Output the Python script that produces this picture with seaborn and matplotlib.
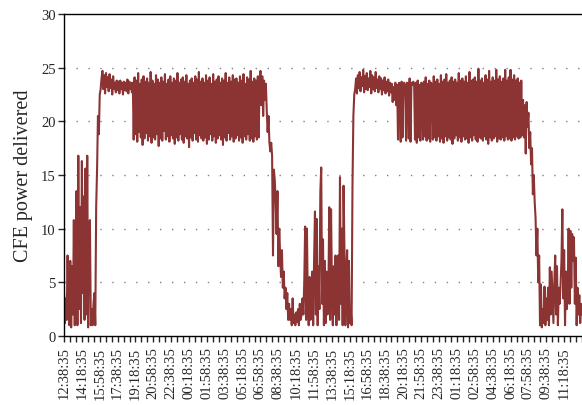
#!/usr/bin/python3
# -*- coding: utf-8 -*-

# --------------------------------------------------------------------
# CFE power delivered - two days of 5 min samples
# --------------------------------------------------------------------
import numpy as np
import pandas as pd

import matplotlib
matplotlib.use("Agg")
import matplotlib.pyplot as plt
from matplotlib.ticker import MultipleLocator, FixedLocator
import seaborn as sns

# --------------------------------------------------------------------
# data (one value every 5 minutes)
# --------------------------------------------------------------------
start_time = "2000-01-01 12:38:35"
step_minutes = 5
label_every = 100  # minutes between x labels

# morning, low and noisy
low_day1 = [4.0, 1.2, 3.5, 1.5, 7.5, 2.0, 1.0, 7.0, 0.8, 6.5, 2.0, 10.8, 1.0, 8.0, 13.5, 1.0,
            16.8, 2.5, 12.0, 1.2, 16.3, 4.0, 13.0, 1.5, 15.6, 2.0, 16.8, 0.8, 10.0, 10.8, 1.0,
            2.5, 1.0, 3.0, 4.0, 1.0, 12.0]
rise_day1 = [15.5, 20.5, 18.8, 22.5, 23.0, 24.0]
plateau_day1 = [24.7, 23.0, 24.3, 22.6, 24.5, 23.2, 24.1, 22.8, 24.4, 23.1, 23.9, 22.5, 24.2, 23.0,
                23.6, 22.7, 23.8, 22.9, 23.7, 22.6, 23.8, 23.0, 23.6, 22.5, 23.7, 22.9, 23.6, 22.8,
                23.9, 22.6, 23.7, 23.0, 23.6, 22.7]
band_day1 = [23.6, 18.3, 24.1, 18.8, 23.8, 18.1, 24.5, 19.0, 23.5, 18.5, 23.9, 17.8, 24.2, 18.4, 23.7, 18.9, 24.0, 18.2, 23.6, 18.6,
             24.6, 18.0, 23.8, 18.5, 23.5, 18.3, 24.3, 18.8, 23.9, 17.7, 23.6, 18.4, 24.1, 18.2, 23.7, 19.1, 24.4, 18.3, 23.5, 18.6,
             23.9, 18.1, 24.2, 18.7, 23.6, 18.4, 24.0, 17.9, 23.8, 18.5, 24.5, 18.2, 23.6, 18.8, 23.9, 18.3, 24.1, 18.0, 23.7, 18.6,
             24.3, 18.4, 23.5, 17.6, 23.8, 18.5, 24.0, 18.2, 23.6, 18.9, 24.2, 18.3, 23.9, 18.1, 24.6, 18.7, 23.7, 18.4, 24.0, 18.2,
             23.6, 18.5, 24.3, 17.9, 23.8, 18.3, 24.1, 18.8, 23.5, 18.2, 24.4, 18.6, 23.7, 18.0, 23.9, 18.4, 24.2, 18.7, 23.6, 18.3,
             24.0, 17.8, 23.8, 18.5, 24.5, 18.2, 23.6, 18.9, 24.1, 18.3, 23.7, 18.6, 24.3, 18.1, 23.9, 18.4, 24.0, 18.7, 23.6, 18.2,
             24.2, 18.5, 23.8, 18.0, 24.4, 18.6, 23.5, 18.3, 24.1, 18.8, 23.9, 18.2, 24.7, 18.4, 23.7, 18.1, 24.0, 18.6, 23.8, 18.3,
             24.2, 18.5, 23.9]
band_end_day1 = [24.7, 21.5, 24.2, 20.5, 23.8, 22.0, 23.5]
fall_day1 = [21.0, 19.0, 20.5, 18.0, 17.2, 18.0, 16.8, 7.5, 15.5, 14.5, 12.5, 9.5, 13.5, 6.5, 10.0,
             7.5, 5.5, 8.0, 4.5, 6.0, 3.5, 4.5, 2.5, 4.0, 1.5, 3.0]
night_day2 = [1.5, 2.5, 1.0, 3.5, 1.2, 2.0, 1.0, 2.2, 1.3, 2.5, 1.0, 3.0, 1.5, 2.0, 3.5]
low_day2 = [2.0, 5.0, 10.2, 1.5, 10.0, 3.0, 1.0, 5.5, 1.5, 4.0, 6.0, 1.0, 7.0, 11.6, 2.0, 10.9,
            1.0, 6.5, 2.5, 13.4, 15.7, 3.0, 9.0, 1.0, 7.0, 1.2, 6.0, 2.0, 4.0, 12.0, 1.5, 11.8,
            4.5, 1.0, 6.5, 2.0, 7.5, 1.0, 5.5, 7.5, 1.5, 14.8, 3.0, 10.0, 1.0, 14.0, 8.0, 1.0,
            6.0, 8.0, 0.8, 7.0]
rise_day2 = [1.2, 2.5, 1.0, 14.0, 20.5, 22.5]
plateau_day2 = [23.0, 24.0, 22.6, 24.3, 23.1, 24.6, 22.8, 24.1, 23.3, 24.8, 22.7, 24.2, 23.0, 24.5,
                22.9, 24.0, 23.2, 24.7, 22.6, 24.3, 23.0, 24.1, 22.8, 24.6, 23.1, 23.9, 22.7, 24.2,
                23.0, 24.0, 22.5, 23.8, 22.9, 24.1, 22.6, 23.7, 22.8, 23.9, 22.4, 23.6, 22.7]
dip_day2 = [23.5, 21.8, 23.2, 22.0, 23.6, 21.5, 23.4]
band_day2 = [18.3, 23.6, 23.4, 18.1, 23.7, 18.5, 23.5, 23.6, 23.3, 18.2, 23.6, 23.5, 18.4, 24.0, 18.1, 23.6,
             23.4, 23.7, 23.5, 18.3, 23.6, 18.0, 23.8, 18.5, 23.4, 18.2, 23.6, 23.5, 18.3, 23.7, 18.6, 24.1,
             18.2, 23.5, 18.4, 23.8, 18.1, 23.6, 23.4, 18.3, 24.2, 18.5, 23.7, 18.2, 23.9, 18.6, 23.5, 18.1,
             24.3, 18.4, 23.7, 18.0, 23.9, 18.6, 24.4, 18.2, 23.6, 18.5, 23.8, 18.3, 24.1, 17.9, 23.7, 18.4, 23.9, 18.7, 23.6, 18.2,
             24.5, 18.5, 23.8, 18.1, 24.0, 18.6, 23.7, 18.3, 24.2, 18.4, 23.6, 18.0, 24.6, 18.5, 23.8, 18.2, 23.9, 18.7, 24.1, 18.3,
             23.7, 18.1, 24.9, 18.5, 23.8, 18.4, 24.0, 18.2, 23.6, 18.6, 24.3, 18.3, 23.9, 17.9, 24.7, 18.5, 23.7, 18.2, 24.1, 18.4,
             23.8, 18.6, 24.8, 18.1, 23.9, 18.4, 24.2, 18.3, 23.7, 18.5, 24.0, 18.2, 24.8, 18.6, 23.8, 18.3, 24.1, 18.4, 24.8, 18.2,
             23.9, 18.5, 24.3, 18.3, 23.8, 18.6, 24.0, 18.4, 23.6, 18.5, 23.8, 18.7]
fall_day2 = [22.0, 18.5, 21.5, 17.0, 21.8, 19.5, 20.8, 17.5, 19.0, 16.0, 17.5, 13.2, 15.0, 12.5,
             11.0, 7.5, 10.0, 5.0, 7.5]
low_day3 = [1.0, 4.8, 0.8, 2.5, 1.2, 4.6, 1.0, 3.5, 1.5, 4.5, 1.0, 6.4, 2.0, 6.0, 3.5, 1.2,
            5.0, 7.5, 2.0, 6.5, 1.0, 4.5, 3.0, 4.8, 7.0, 11.8, 3.5, 8.0, 1.0, 6.0, 2.5, 4.0,
            10.0, 3.0, 9.8, 4.5, 9.5, 7.0, 9.2, 3.0, 7.3, 1.0, 4.5, 2.0, 3.8, 1.2, 3.0, 2.0]

power = (low_day1 + rise_day1 + plateau_day1 + band_day1 + band_end_day1 + fall_day1
         + night_day2 + low_day2 + rise_day2 + plateau_day2 + dip_day2 + band_day2
         + fall_day2 + low_day3)

df = pd.DataFrame({"power": power})
df["minutes"] = np.arange(len(df)) * step_minutes
df["time"] = pd.Timestamp(start_time) + pd.to_timedelta(df["minutes"], unit="m")

# --------------------------------------------------------------------
# plot
# --------------------------------------------------------------------
sns.set_style("white")
plt.rcParams["font.family"] = ["Liberation Serif", "DejaVu Serif"]

fig = plt.figure(figsize=(5.82, 4.06), dpi=100)
ax = fig.add_axes([0.110, 0.170, 0.890, 0.793])

sns.lineplot(data=df, x="minutes", y="power", ax=ax, color="#8c3434", linewidth=1.5)

ax.set_xlim(0, df["minutes"].max())
ax.set_ylim(0, 30)

# x ticks: label every 100 min, small ticks in between
label_min = np.arange(0, df["minutes"].max(), label_every)
label_txt = [(pd.Timestamp(start_time) + pd.Timedelta(minutes=int(m))).strftime("%H:%M:%S")
             for m in label_min]
ax.xaxis.set_major_locator(FixedLocator(label_min))
ax.set_xticklabels(label_txt, rotation=90, fontsize=10.5)
ax.xaxis.set_minor_locator(MultipleLocator(label_every / 3))

ax.yaxis.set_major_locator(MultipleLocator(5))
ax.tick_params(axis="y", labelsize=10.5, direction="out", length=4, width=1, pad=2, left=True)
ax.tick_params(axis="x", which="both", direction="out", length=4, width=1, bottom=True)

# dotted horizontal lines
for v in range(5, 30, 5):
    ax.axhline(v, color="#808080", linewidth=1.0, linestyle=(0, (1, 7.6)), zorder=0)

for side in ["left", "bottom", "top"]:
    ax.spines[side].set_color("black")
    ax.spines[side].set_linewidth(1.0)
ax.spines["right"].set_visible(False)

ax.set_xlabel("")
ax.set_ylabel("CFE power delivered", fontsize=14.5, labelpad=6)

plt.savefig("out.png", dpi=100)
